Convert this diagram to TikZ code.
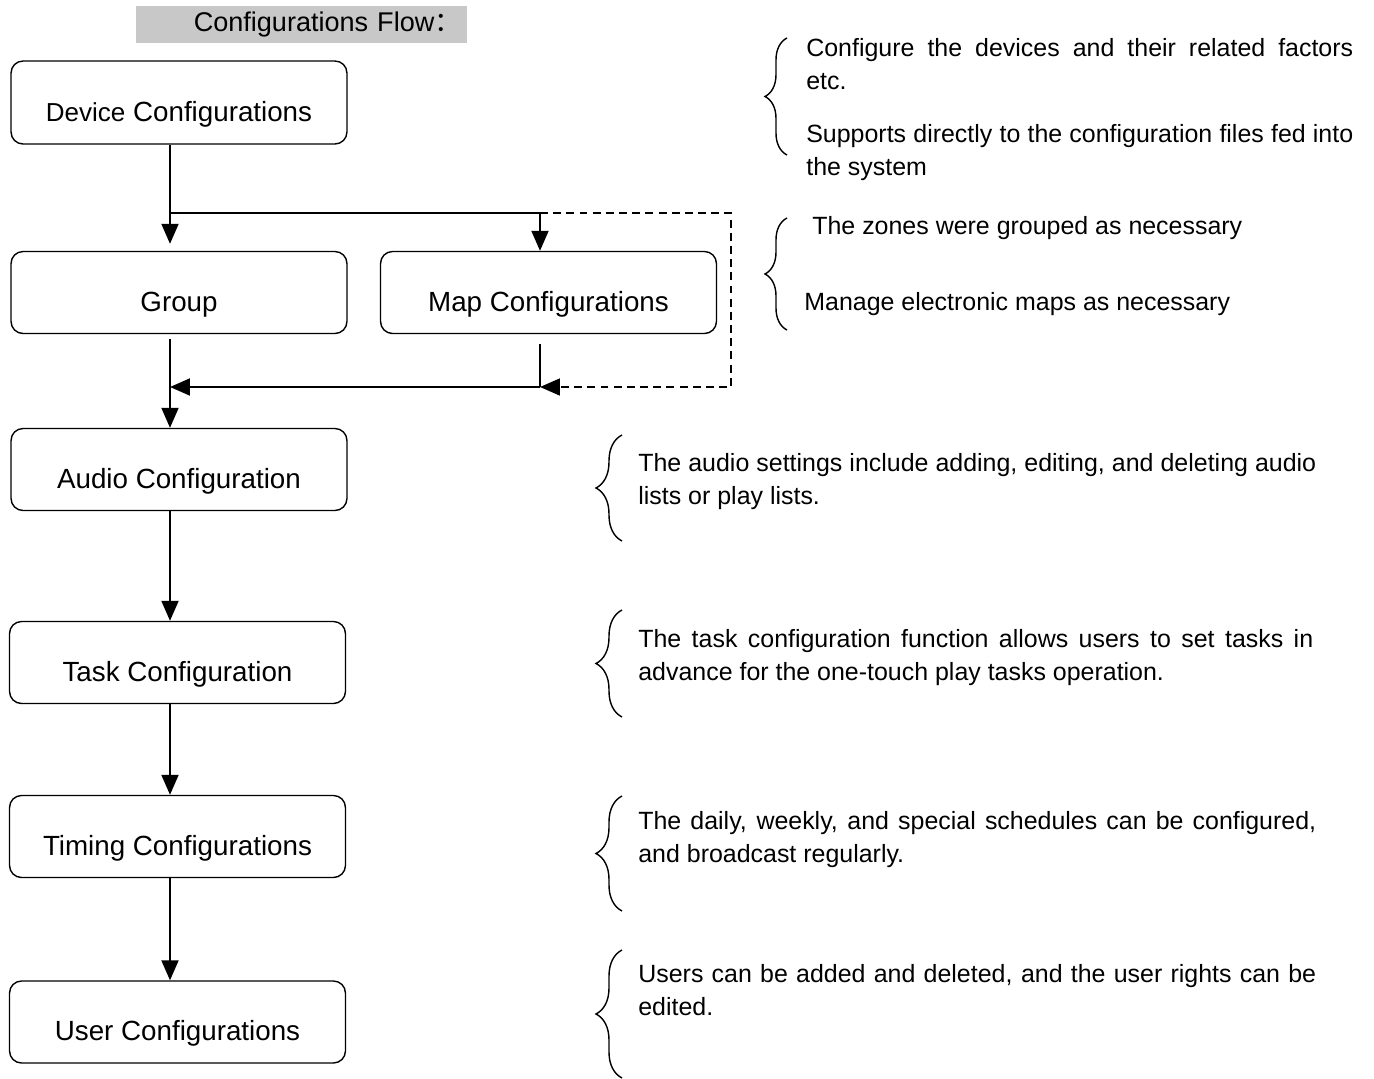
\documentclass[tikz,border=0pt]{standalone}
\usepackage{fontspec}
\setmainfont{Liberation Sans}
\newfontfamily\cjk{Noto Sans CJK SC}
\usetikzlibrary{arrows.meta,decorations.pathreplacing}
\definecolor{titlegray}{RGB}{200,200,200}

\begin{document}
\begin{tikzpicture}[x=0.02cm,y=-0.02cm,
  box/.style={draw,rounded corners=0.24cm,line width=0.8pt,minimum width=6.72cm,
    minimum height=1.64cm,text height=0.85cm,text depth=0.1cm,
    font=\fontsize{15.8}{19}\selectfont},
  flow/.style={line width=1.1pt,-{Triangle[length=0.4cm,width=0.34cm]}},
  link/.style={line width=1.1pt},
  brace/.style={decorate,decoration={brace,amplitude=#1},line width=0.8pt},
  note/.style={anchor=base west,inner sep=0pt,text width=#1,align=justify,
    font=\fontsize{14.2}{19}\selectfont}]
\useasboundingbox (0,0) rectangle (1374,1079);

% title
\node[fill=titlegray,inner sep=0pt,minimum width=6.62cm,minimum height=0.74cm,
  text width=6.4cm,align=right,font=\fontsize{15.4}{18}\selectfont]
  (title) at (301.5,24.5) {Configurations Flow{\cjk ：}};

% boxes
\node[box,minimum height=1.66cm] (device) at (179,102.5)
  {{\fontsize{14.8}{18}\selectfont Device} Configurations};
\node[box] (group)  at (179,292.5)   {Group};
\node[box] (map)    at (548.5,292.5) {Map Configurations};
\node[box] (audio)  at (179,469.5)   {Audio Configuration};
\node[box] (task)   at (177.5,662.5) {Task Configuration};
\node[box] (timing) at (177.5,836.5) {Timing Configurations};
\node[box] (user)   at (177.5,1022)  {User Configurations};

% connectors
\coordinate (trunk)  at (170,0);
\coordinate (split)  at (170,213);
\coordinate (branch) at (540,213);
\coordinate (loop)   at (731,213);
\coordinate (merge)  at (540,387);
\draw[flow] (device.south -| trunk) -- ([yshift=0.14cm]group.north -| trunk);
\draw[link] (split) -- (branch);
\draw[flow] (branch) -- (map.north -| branch);
\draw[flow,dash pattern=on 4.5pt off 3pt,line width=1pt] (branch) -- (loop) |- (merge);
\draw[link,shorten <=0.2cm] (map.south -| branch) -- (merge);
\draw[flow] (merge) -- (merge -| trunk);
\draw[flow,shorten <=0.1cm] (group.south -| trunk) -- (audio.north -| trunk);
\foreach \a/\b in {audio/task,task/timing,timing/user}
  \draw[flow] (\a.south -| trunk) -- (\b.north -| trunk);

% braces
\foreach \x/\top/\bot/\amp in {787/38/155/0.44cm,787/218/330/0.44cm,
    622/435/541/0.52cm,622/610/717/0.52cm,622/796/911/0.52cm,622/950/1078/0.52cm}
  \draw[brace=\amp] (\x,\bot) -- (\x,\top);

% notes
\node[note=10.94cm] (devnote) at (806,56)
  {Configure the devices and their related factors\linebreak etc.};
\node[note=10.94cm] (filenote) at (806,142)
  {Supports directly to the configuration files fed into\linebreak the system};
\node[note=9cm] (groupnote) at (812,234) {The zones were grouped as necessary};
\node[note=9cm] (mapnote) at (804,310) {Manage electronic maps as necessary};
\node[note=13.56cm] (audionote) at (638,471)
  {The audio settings include adding, editing, and deleting audio\linebreak lists or play lists.};
\node[note=13.5cm] (tasknote) at (638,647)
  {The task configuration function allows users to set tasks in\linebreak advance for the one-touch play tasks operation.};
\node[note=13.56cm] (timingnote) at (638,829)
  {The daily, weekly, and special schedules can be configured,\linebreak and broadcast regularly.};
\node[note=13.56cm] (usernote) at (638,982)
  {Users can be added and deleted, and the user rights can be\linebreak edited.};
\end{tikzpicture}
\end{document}
